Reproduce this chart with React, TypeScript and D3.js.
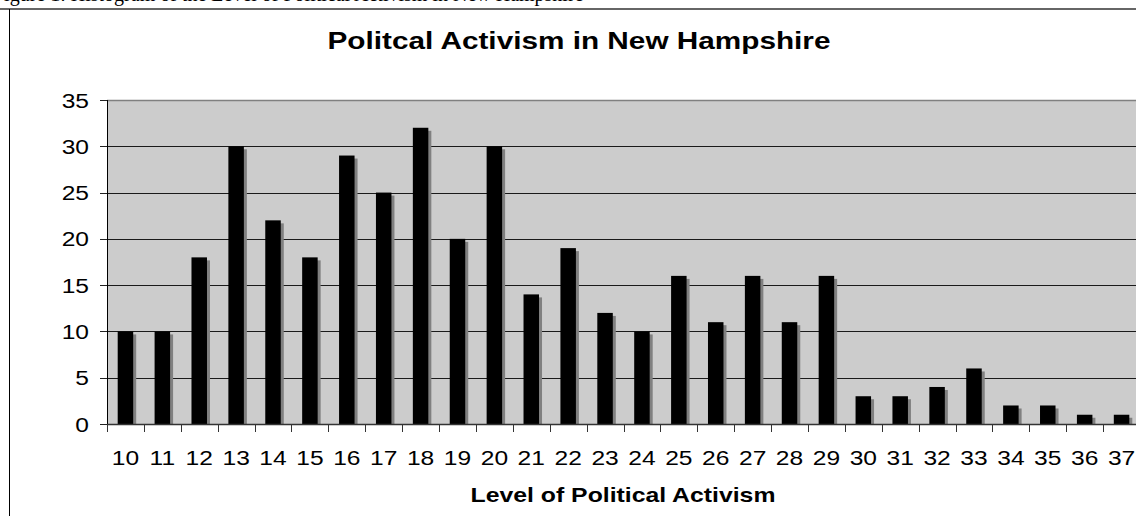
import React from 'react';
import * as d3 from 'd3';

const levels = [10, 11, 12, 13, 14, 15, 16, 17, 18, 19, 20, 21, 22, 23, 24, 25, 26, 27, 28, 29, 30, 31, 32, 33, 34, 35, 36, 37];
const counts = [10, 10, 18, 30, 22, 18, 29, 25, 32, 20, 30, 14, 19, 12, 10, 16, 11, 16, 11, 16, 3, 3, 4, 6, 2, 2, 1, 1];
const yTicks = [0, 5, 10, 15, 20, 25, 30, 35];

const chartTitle = 'Politcal Activism in New Hampshire';
const xTitle = 'Level of Political Activism';
const captionText = 'Figure 1: Histogram of the Level of Political Activism in New Hampshire';

const W = 1136;
const H = 516;
const SX = 1.24; // glyphs in the picture are stretched sideways
const SX_TICK = 1.17;
const FONT = '"Liberation Sans", Arial, sans-serif';

const App = () => {
  const plot = { left: 107, right: 1140, top: 100, bottom: 424 };

  const x = d3.scaleBand<number>()
    .domain(levels)
    .range([plot.left, plot.right])
    .paddingInner(0)
    .paddingOuter(0);

  const y = d3.scaleLinear()
    .domain([0, 35])
    .range([plot.bottom, plot.top]);

  const barW = x.bandwidth() * 0.42;
  const shadow = 3;

  // band edges for the x ticks
  const edges = levels.map(d => x(d) as number).concat([plot.right]);

  return (
    <svg width={W} height={H} style={{ position: 'absolute', left: 0, top: 0, background: '#fff' }}>
      {/* caption of the page above, mostly cut off by the crop */}
      <text x={-7} y={0.5} fontFamily='"Liberation Serif", "Times New Roman", serif' fontSize={20} fill="#000">
        {captionText}
      </text>

      {/* outer chart frame */}
      <line x1={0} x2={W} y1={9} y2={9} stroke="#666" strokeWidth={2} />
      <line x1={9.5} x2={9.5} y1={9} y2={H} stroke="#000" strokeWidth={1} />

      <g transform={`translate(579, 49) scale(${SX},1)`}>
        <text textAnchor="middle" fontFamily={FONT} fontWeight="bold" fontSize={24} fill="#000">
          {chartTitle}
        </text>
      </g>

      {/* plot area */}
      <rect x={plot.left} y={plot.top} width={plot.right - plot.left} height={plot.bottom - plot.top} fill="#cccccc" />
      <line x1={plot.left} x2={plot.right} y1={plot.top + 0.5} y2={plot.top + 0.5} stroke="#808080" strokeWidth={1.5} />

      {yTicks.filter(t => t > 0 && t < 35).map(t => (
        <line key={'g' + t} x1={plot.left} x2={plot.right} y1={Math.round(y(t)) + 0.5} y2={Math.round(y(t)) + 0.5} stroke="#1a1a1a" strokeWidth={1} />
      ))}

      {/* bars with offset shadow */}
      {levels.map((d, i) => {
        const cx = (x(d) as number) + x.bandwidth() / 2;
        const top = y(counts[i]);
        return (
          <g key={'b' + d}>
            <rect x={cx - barW / 2 + shadow} y={top + shadow} width={barW} height={plot.bottom - top - shadow} fill="#808080" />
            <rect x={cx - barW / 2} y={top} width={barW} height={plot.bottom - top} fill="#000" />
          </g>
        );
      })}

      {/* axes */}
      <line x1={plot.left + 0.5} x2={plot.left + 0.5} y1={plot.top} y2={plot.bottom} stroke="#000" strokeWidth={1} />
      <line x1={plot.left} x2={plot.right} y1={plot.bottom + 0.5} y2={plot.bottom + 0.5} stroke="#333" strokeWidth={1.5} />

      {yTicks.map(t => (
        <g key={'y' + t}>
          <line x1={plot.left - 7} x2={plot.left} y1={Math.round(y(t)) + 0.5} y2={Math.round(y(t)) + 0.5} stroke="#222" strokeWidth={1} />
          <g transform={`translate(89, ${y(t) + 7.5}) scale(${SX_TICK},1)`}>
            <text textAnchor="end" fontFamily={FONT} fontSize={21} fill="#000">{t}</text>
          </g>
        </g>
      ))}

      {edges.map((e, i) => (
        <line key={'xt' + i} x1={Math.round(e) + 0.5} x2={Math.round(e) + 0.5} y1={plot.bottom} y2={plot.bottom + 8} stroke="#333" strokeWidth={1} />
      ))}

      {levels.map(d => (
        <g key={'xl' + d} transform={`translate(${(x(d) as number) + x.bandwidth() / 2}, 465) scale(${SX_TICK},1)`}>
          <text textAnchor="middle" fontFamily={FONT} fontSize={21} fill="#000">{d}</text>
        </g>
      ))}

      <g transform={`translate(623, 502) scale(${SX},1)`}>
        <text textAnchor="middle" fontFamily={FONT} fontWeight="bold" fontSize={20} fill="#000">
          {xTitle}
        </text>
      </g>
    </svg>
  );
};

export default App;
